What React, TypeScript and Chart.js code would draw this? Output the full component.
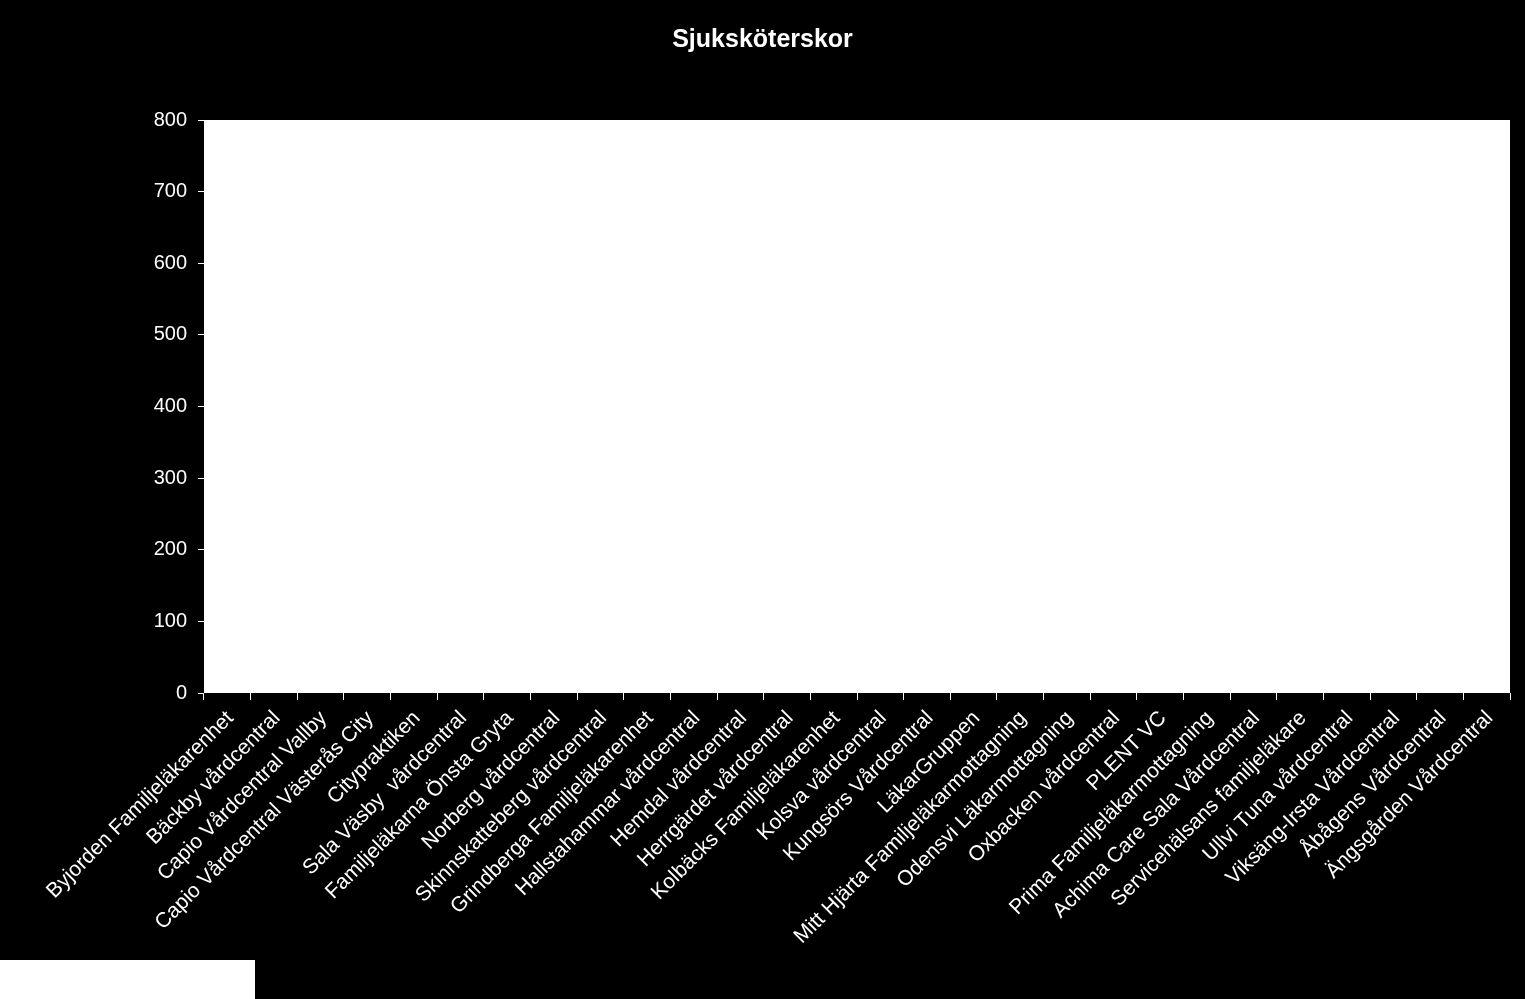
import { useEffect, useRef } from 'react'
import { Chart, registerables } from 'chart.js'

Chart.register(...registerables)

const categories = [
  'Byjorden Familjeläkarenhet',
  'Bäckby vårdcentral',
  'Capio Vårdcentral Vallby',
  'Capio Vårdcentral Västerås City',
  'Citypraktiken',
  'Sala Väsby  vårdcentral',
  'Familjeläkarna Önsta Gryta',
  'Norberg vårdcentral',
  'Skinnskatteberg vårdcentral',
  'Grindberga Familjeläkarenhet',
  'Hallstahammar vårdcentral',
  'Hemdal vårdcentral',
  'Herrgärdet vårdcentral',
  'Kolbäcks Familjeläkarenhet',
  'Kolsva vårdcentral',
  'Kungsörs Vårdcentral',
  'LäkarGruppen',
  'Mitt Hjärta Familjeläkarmottagning',
  'Odensvi Läkarmottagning',
  'Oxbacken vårdcentral',
  'PLENT VC',
  'Prima Familjeläkarmottagning',
  'Achima Care Sala Vårdcentral',
  'Servicehälsans familjeläkare',
  'Ullvi Tuna vårdcentral',
  'Viksäng-Irsta Vårdcentral',
  'Åbågens Vårdcentral',
  'Ängsgården Vårdcentral',
]

// no nurse values are shown in the picture
const nurses = [0, 0, 0, 0, 0, 0, 0, 0, 0, 0, 0, 0, 0, 0, 0, 0, 0, 0, 0, 0, 0, 0, 0, 0, 0, 0, 0, 0]

const yMin = 0
const yMax = 800
const yStep = 100

const FONT = "'Liberation Sans', Arial, sans-serif"

const plotBackground = {
  id: 'plotBackground',
  beforeDraw(chart: Chart) {
    const { ctx, chartArea } = chart
    ctx.save()
    ctx.fillStyle = '#ffffff'
    ctx.fillRect(chartArea.left, chartArea.top, chartArea.right - chartArea.left, chartArea.bottom - chartArea.top)
    ctx.restore()
  },
}

function NurseChart() {
  const canvasRef = useRef<HTMLCanvasElement>(null)
  const chartRef = useRef<Chart | null>(null)

  useEffect(() => {
    const canvas = canvasRef.current
    if (!canvas) return
    chartRef.current?.destroy()
    chartRef.current = new Chart(canvas, {
      type: 'bar',
      data: {
        labels: categories,
        datasets: [{
          label: 'Sjuksköterskor',
          data: nurses,
          backgroundColor: '#9999ff',
          borderWidth: 0,
        }],
      },
      plugins: [plotBackground],
      options: {
        responsive: false,
        animation: false,
        layout: { padding: 0 },
        scales: {
          x: {
            grid: {
              drawOnChartArea: false,
              color: '#ffffff',
              tickLength: 7,
              lineWidth: 1,
            },
            border: { display: false },
            ticks: {
              autoSkip: false,
              minRotation: 45,
              maxRotation: 45,
              color: '#ffffff',
              font: { family: FONT, size: 21 },
              padding: 6,
              labelOffset: 3,
            },
            afterFit: (s: any) => { s.height = 306 },
          },
          y: {
            min: yMin,
            max: yMax,
            grid: {
              drawOnChartArea: false,
              color: '#ffffff',
              tickLength: 6,
            },
            border: { display: false },
            ticks: {
              stepSize: yStep,
              color: '#ffffff',
              font: { family: FONT, size: 20 },
              padding: 11,
            },
            afterFit: (s: any) => { s.width = 204 },
          },
          // empty strip on the right so the title centres on the whole canvas
          yRight: {
            position: 'right',
            display: true,
            grid: { display: false },
            border: { display: false },
            ticks: { display: false },
            afterFit: (s: any) => { s.width = 15 },
          },
        },
        plugins: {
          legend: { display: false },
          tooltip: { enabled: false },
          title: {
            display: true,
            text: 'Sjuksköterskor',
            color: '#ffffff',
            font: { family: FONT, size: 25, weight: 'bold' },
            padding: { top: 25, bottom: 65 },
          },
        },
      },
    })
    return () => { chartRef.current?.destroy() }
  }, [])

  return <canvas ref={canvasRef} width={1525} height={999} style={{ display: 'block' }} />
}

export default function App() {
  useEffect(() => {
    document.body.style.margin = '0'
    document.body.style.background = '#000'
  }, [])

  return (
    <div style={{ position: 'relative', width: 1525, height: 999, background: '#000' }}>
      <NurseChart />
      <div style={{ position: 'absolute', left: 0, top: 960, width: 255, height: 39, background: '#fff' }} />
    </div>
  )
}
